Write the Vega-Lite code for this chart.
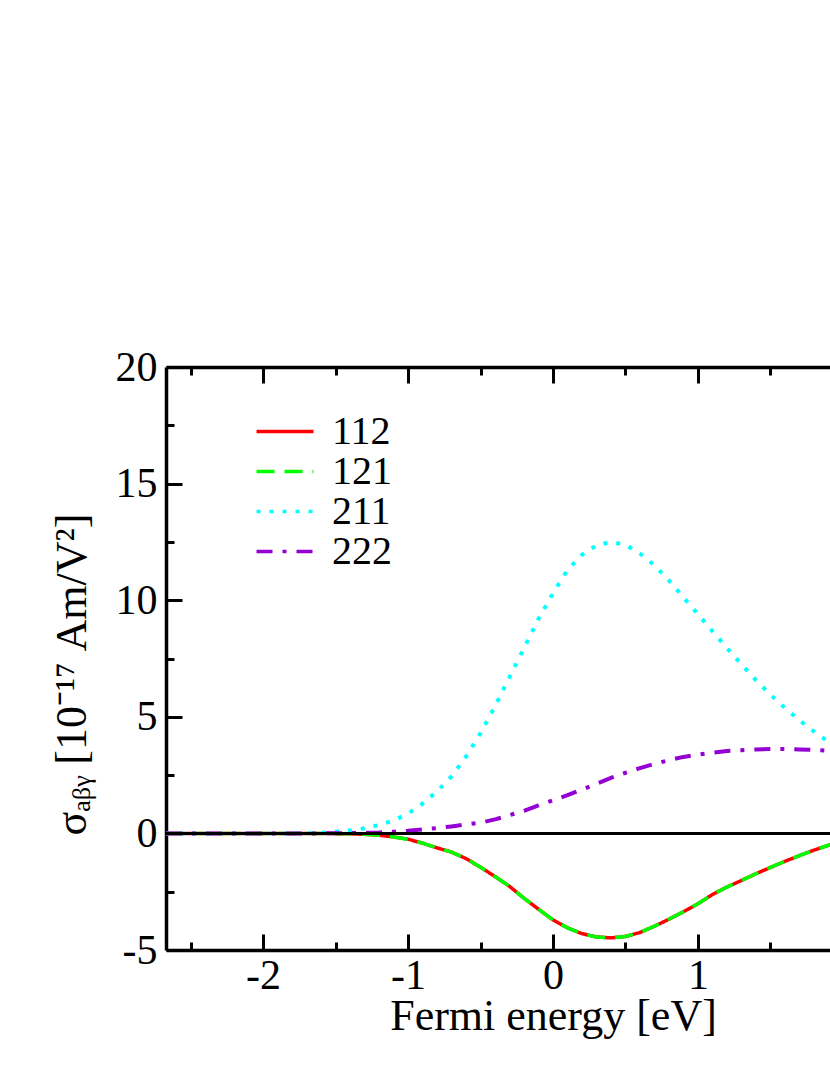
{
  "$schema": "https://vega.github.io/schema/vega-lite/v6.json",
  "description": "sigma_abg vs Fermi energy",
  "autosize": {"type": "none"},
  "width": 774,
  "height": 583,
  "padding": {"left": 166, "top": 367, "right": 10, "bottom": 125},
  "background": "white",
  "config": {
    "view": {"stroke": null},
    "font": "Liberation Serif",
    "axis": {
      "grid": false,
      "domainColor": "black",
      "domainWidth": 3.5,
      "tickColor": "black",
      "tickWidth": 3,
      "labelFont": "Liberation Serif",
      "labelFontSize": 42,
      "labelColor": "black",
      "labelFlush": false,
      "labelOverlap": false,
      "titleFont": "Liberation Serif",
      "titleFontSize": 44,
      "titleFontWeight": "normal",
      "titleColor": "black"
    },
    "legend": {
      "orient": "none",
      "legendX": 99,
      "legendY": 44.5,
      "padding": 0,
      "labelFont": "Liberation Serif",
      "labelFontSize": 40,
      "labelColor": "black",
      "labelOffset": 27,
      "rowPadding": 0,
      "symbolType": "M-2,0H2",
      "symbolSize": 812,
      "symbolStrokeWidth": 3.5
    }
  },
  "datasets": {
    "curves": [
      {"e": -2.67, "s": 0, "series": "112"},
      {"e": -2.0, "s": 0, "series": "112"},
      {"e": -1.6, "s": 0, "series": "112"},
      {"e": -1.4, "s": -0.02, "series": "112"},
      {"e": -1.3, "s": -0.04, "series": "112"},
      {"e": -1.2, "s": -0.08, "series": "112"},
      {"e": -1.1, "s": -0.15, "series": "112"},
      {"e": -1.0, "s": -0.25, "series": "112"},
      {"e": -0.9, "s": -0.42, "series": "112"},
      {"e": -0.8, "s": -0.62, "series": "112"},
      {"e": -0.7, "s": -0.8, "series": "112"},
      {"e": -0.6, "s": -1.08, "series": "112"},
      {"e": -0.5, "s": -1.45, "series": "112"},
      {"e": -0.4, "s": -1.85, "series": "112"},
      {"e": -0.3, "s": -2.27, "series": "112"},
      {"e": -0.2, "s": -2.78, "series": "112"},
      {"e": -0.1, "s": -3.25, "series": "112"},
      {"e": 0.0, "s": -3.71, "series": "112"},
      {"e": 0.1, "s": -4.05, "series": "112"},
      {"e": 0.2, "s": -4.3, "series": "112"},
      {"e": 0.3, "s": -4.44, "series": "112"},
      {"e": 0.4, "s": -4.48, "series": "112"},
      {"e": 0.5, "s": -4.42, "series": "112"},
      {"e": 0.6, "s": -4.25, "series": "112"},
      {"e": 0.7, "s": -3.98, "series": "112"},
      {"e": 0.8, "s": -3.68, "series": "112"},
      {"e": 0.9, "s": -3.36, "series": "112"},
      {"e": 1.0, "s": -3.02, "series": "112"},
      {"e": 1.1, "s": -2.62, "series": "112"},
      {"e": 1.2, "s": -2.3, "series": "112"},
      {"e": 1.3, "s": -2.02, "series": "112"},
      {"e": 1.4, "s": -1.73, "series": "112"},
      {"e": 1.5, "s": -1.46, "series": "112"},
      {"e": 1.6, "s": -1.2, "series": "112"},
      {"e": 1.7, "s": -0.95, "series": "112"},
      {"e": 1.8, "s": -0.72, "series": "112"},
      {"e": 1.9, "s": -0.51, "series": "112"},
      {"e": 2.0, "s": -0.35, "series": "112"},
      {"e": 2.2, "s": -0.15, "series": "112"},
      {"e": 2.4, "s": -0.05, "series": "112"},
      {"e": 2.67, "s": -0.01, "series": "112"},

      {"e": -2.67, "s": 0, "series": "121"},
      {"e": -2.0, "s": 0, "series": "121"},
      {"e": -1.6, "s": 0, "series": "121"},
      {"e": -1.4, "s": -0.02, "series": "121"},
      {"e": -1.3, "s": -0.04, "series": "121"},
      {"e": -1.2, "s": -0.08, "series": "121"},
      {"e": -1.1, "s": -0.15, "series": "121"},
      {"e": -1.0, "s": -0.25, "series": "121"},
      {"e": -0.9, "s": -0.42, "series": "121"},
      {"e": -0.8, "s": -0.62, "series": "121"},
      {"e": -0.7, "s": -0.8, "series": "121"},
      {"e": -0.6, "s": -1.08, "series": "121"},
      {"e": -0.5, "s": -1.45, "series": "121"},
      {"e": -0.4, "s": -1.85, "series": "121"},
      {"e": -0.3, "s": -2.27, "series": "121"},
      {"e": -0.2, "s": -2.78, "series": "121"},
      {"e": -0.1, "s": -3.25, "series": "121"},
      {"e": 0.0, "s": -3.71, "series": "121"},
      {"e": 0.1, "s": -4.05, "series": "121"},
      {"e": 0.2, "s": -4.3, "series": "121"},
      {"e": 0.3, "s": -4.44, "series": "121"},
      {"e": 0.4, "s": -4.48, "series": "121"},
      {"e": 0.5, "s": -4.42, "series": "121"},
      {"e": 0.6, "s": -4.25, "series": "121"},
      {"e": 0.7, "s": -3.98, "series": "121"},
      {"e": 0.8, "s": -3.68, "series": "121"},
      {"e": 0.9, "s": -3.36, "series": "121"},
      {"e": 1.0, "s": -3.02, "series": "121"},
      {"e": 1.1, "s": -2.62, "series": "121"},
      {"e": 1.2, "s": -2.3, "series": "121"},
      {"e": 1.3, "s": -2.02, "series": "121"},
      {"e": 1.4, "s": -1.73, "series": "121"},
      {"e": 1.5, "s": -1.46, "series": "121"},
      {"e": 1.6, "s": -1.2, "series": "121"},
      {"e": 1.7, "s": -0.95, "series": "121"},
      {"e": 1.8, "s": -0.72, "series": "121"},
      {"e": 1.9, "s": -0.51, "series": "121"},
      {"e": 2.0, "s": -0.35, "series": "121"},
      {"e": 2.2, "s": -0.15, "series": "121"},
      {"e": 2.4, "s": -0.05, "series": "121"},
      {"e": 2.67, "s": -0.01, "series": "121"},

      {"e": -2.67, "s": 0, "series": "211"},
      {"e": -2.0, "s": 0, "series": "211"},
      {"e": -1.8, "s": 0, "series": "211"},
      {"e": -1.6, "s": 0.03, "series": "211"},
      {"e": -1.5, "s": 0.07, "series": "211"},
      {"e": -1.4, "s": 0.12, "series": "211"},
      {"e": -1.3, "s": 0.22, "series": "211"},
      {"e": -1.2, "s": 0.36, "series": "211"},
      {"e": -1.1, "s": 0.55, "series": "211"},
      {"e": -1.0, "s": 0.85, "series": "211"},
      {"e": -0.9, "s": 1.28, "series": "211"},
      {"e": -0.8, "s": 1.8, "series": "211"},
      {"e": -0.7, "s": 2.45, "series": "211"},
      {"e": -0.6, "s": 3.3, "series": "211"},
      {"e": -0.5, "s": 4.3, "series": "211"},
      {"e": -0.4, "s": 5.45, "series": "211"},
      {"e": -0.3, "s": 6.7, "series": "211"},
      {"e": -0.2, "s": 7.95, "series": "211"},
      {"e": -0.1, "s": 9.2, "series": "211"},
      {"e": 0.0, "s": 10.3, "series": "211"},
      {"e": 0.1, "s": 11.3, "series": "211"},
      {"e": 0.2, "s": 11.95, "series": "211"},
      {"e": 0.3, "s": 12.35, "series": "211"},
      {"e": 0.4, "s": 12.5, "series": "211"},
      {"e": 0.5, "s": 12.38, "series": "211"},
      {"e": 0.6, "s": 12.0, "series": "211"},
      {"e": 0.7, "s": 11.5, "series": "211"},
      {"e": 0.8, "s": 10.85, "series": "211"},
      {"e": 0.9, "s": 10.12, "series": "211"},
      {"e": 1.0, "s": 9.4, "series": "211"},
      {"e": 1.1, "s": 8.67, "series": "211"},
      {"e": 1.2, "s": 7.95, "series": "211"},
      {"e": 1.3, "s": 7.25, "series": "211"},
      {"e": 1.4, "s": 6.57, "series": "211"},
      {"e": 1.5, "s": 5.95, "series": "211"},
      {"e": 1.6, "s": 5.38, "series": "211"},
      {"e": 1.7, "s": 4.85, "series": "211"},
      {"e": 1.8, "s": 4.37, "series": "211"},
      {"e": 1.9, "s": 3.93, "series": "211"},
      {"e": 2.0, "s": 3.5, "series": "211"},
      {"e": 2.2, "s": 2.8, "series": "211"},
      {"e": 2.4, "s": 2.2, "series": "211"},
      {"e": 2.67, "s": 1.6, "series": "211"},

      {"e": -2.67, "s": 0, "series": "222"},
      {"e": -1.6, "s": 0, "series": "222"},
      {"e": -1.4, "s": 0.01, "series": "222"},
      {"e": -1.2, "s": 0.04, "series": "222"},
      {"e": -1.1, "s": 0.07, "series": "222"},
      {"e": -1.0, "s": 0.11, "series": "222"},
      {"e": -0.9, "s": 0.17, "series": "222"},
      {"e": -0.8, "s": 0.23, "series": "222"},
      {"e": -0.7, "s": 0.3, "series": "222"},
      {"e": -0.6, "s": 0.38, "series": "222"},
      {"e": -0.5, "s": 0.46, "series": "222"},
      {"e": -0.4, "s": 0.6, "series": "222"},
      {"e": -0.3, "s": 0.78, "series": "222"},
      {"e": -0.2, "s": 0.97, "series": "222"},
      {"e": -0.1, "s": 1.2, "series": "222"},
      {"e": 0.0, "s": 1.42, "series": "222"},
      {"e": 0.1, "s": 1.64, "series": "222"},
      {"e": 0.2, "s": 1.88, "series": "222"},
      {"e": 0.3, "s": 2.13, "series": "222"},
      {"e": 0.4, "s": 2.38, "series": "222"},
      {"e": 0.5, "s": 2.6, "series": "222"},
      {"e": 0.6, "s": 2.8, "series": "222"},
      {"e": 0.7, "s": 2.98, "series": "222"},
      {"e": 0.8, "s": 3.14, "series": "222"},
      {"e": 0.9, "s": 3.28, "series": "222"},
      {"e": 1.0, "s": 3.38, "series": "222"},
      {"e": 1.1, "s": 3.46, "series": "222"},
      {"e": 1.2, "s": 3.53, "series": "222"},
      {"e": 1.3, "s": 3.57, "series": "222"},
      {"e": 1.4, "s": 3.6, "series": "222"},
      {"e": 1.5, "s": 3.62, "series": "222"},
      {"e": 1.6, "s": 3.62, "series": "222"},
      {"e": 1.7, "s": 3.6, "series": "222"},
      {"e": 1.8, "s": 3.58, "series": "222"},
      {"e": 1.9, "s": 3.55, "series": "222"},
      {"e": 2.0, "s": 3.5, "series": "222"},
      {"e": 2.2, "s": 3.38, "series": "222"},
      {"e": 2.4, "s": 3.2, "series": "222"},
      {"e": 2.67, "s": 2.9, "series": "222"}
    ],
    "zero": [
      {"from": -2.67, "to": 2.67, "level": 0}
    ]
  },
  "layer": [
    {
      "data": {"name": "curves"},
      "transform": [{"filter": "datum.series === '112' || datum.series === '121'"}],
      "mark": {"type": "line", "strokeWidth": 3.5, "clip": true},
      "encoding": {
        "x": {
          "field": "e", "type": "quantitative",
          "scale": {"domain": [-2.67, 2.67], "nice": false, "zero": false},
          "axis": {
            "orient": "bottom",
            "values": [-2, -1, 0, 1],
            "tickSize": -16,
            "labelPadding": 21,
            "labelExpr": "'' + datum.value",
            "title": "Fermi energy [eV]",
            "titleBaseline": "alphabetic",
            "titleY": 79
          }
        },
        "y": {
          "field": "s", "type": "quantitative",
          "scale": {"domain": [-5, 20], "nice": false, "zero": false},
          "axis": {
            "orient": "left",
            "values": [-5, 0, 5, 10, 15, 20],
            "tickSize": -16,
            "labelPadding": 25,
            "labelExpr": "'' + datum.value",
            "title": "σₐᵦᵧ [10⁻¹⁷ Am/V²]",
            "titleAngle": -90,
            "titleAlign": "left",
            "titleBaseline": "alphabetic",
            "titleX": -81,
            "titleY": 468
          }
        },
        "color": {
          "field": "series", "type": "nominal",
          "scale": {"domain": ["112", "121", "211", "222"], "range": ["#ff0000", "#00ff00", "#00ffff", "#9400d3"]},
          "legend": {"title": null}
        },
        "strokeDash": {
          "field": "series", "type": "nominal",
          "scale": {"domain": ["112", "121", "211", "222"], "range": [[1, 0], [18, 10], [4, 9], [16, 10, 4, 10]]},
          "legend": {"title": null}
        }
      }
    },
    {
      "data": {"name": "curves"},
      "transform": [{"filter": "datum.series === '211'"}],
      "mark": {"type": "line", "strokeWidth": 4, "clip": true},
      "encoding": {
        "x": {
          "field": "e", "type": "quantitative",
          "axis": {"orient": "bottom", "values": [-2.5, -1.5, -0.5, 0.5, 1.5, 2.5], "tickSize": -8, "labels": false, "domain": false, "title": null}
        },
        "y": {
          "field": "s", "type": "quantitative",
          "axis": {"orient": "left", "values": [-2.5, 2.5, 7.5, 12.5, 17.5], "tickSize": -8, "labels": false, "domain": false, "title": null}
        },
        "color": {"field": "series", "type": "nominal", "legend": {"title": null}},
        "strokeDash": {"field": "series", "type": "nominal", "legend": {"title": null}}
      }
    },
    {
      "data": {"name": "curves"},
      "transform": [{"filter": "datum.series === '222'"}],
      "mark": {"type": "line", "strokeWidth": 4, "clip": true},
      "encoding": {
        "x": {
          "field": "e", "type": "quantitative",
          "axis": {"orient": "top", "values": [-2, -1, 0, 1, 2], "tickSize": -16, "labels": false, "title": null}
        },
        "y": {"field": "s", "type": "quantitative", "axis": null},
        "color": {"field": "series", "type": "nominal", "legend": {"title": null}},
        "strokeDash": {"field": "series", "type": "nominal", "legend": {"title": null}}
      }
    },
    {
      "data": {"name": "zero"},
      "mark": {"type": "rule", "color": "black", "strokeWidth": 3},
      "encoding": {
        "x": {
          "field": "from", "type": "quantitative",
          "axis": {"orient": "top", "values": [-2.5, -1.5, -0.5, 0.5, 1.5, 2.5], "tickSize": -8, "labels": false, "domain": false, "title": null}
        },
        "x2": {"field": "to"},
        "y": {"field": "level", "type": "quantitative", "axis": null}
      }
    }
  ],
  "resolve": {"axis": {"x": "independent", "y": "independent"}}
}
